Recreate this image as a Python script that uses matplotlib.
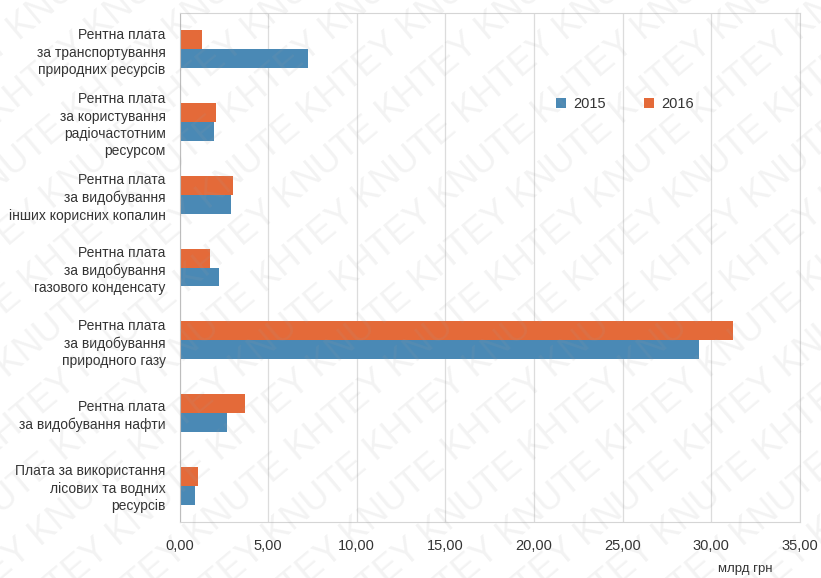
import numpy as np
import matplotlib.pyplot as plt

plt.rcParams['font.family'] = ['Liberation Sans', 'DejaVu Sans']

categories = [
    'Рентна плата\nза транспортування\nприродних ресурсів',
    'Рентна плата\nза користування\nрадіочастотним\nресурсом',
    'Рентна плата\nза видобування\nінших корисних копалин',
    'Рентна плата\nза видобування\nгазового конденсату',
    'Рентна плата\nза видобування\nприродного газу',
    'Рентна плата\nза видобування нафти',
    'Плата за використання\nлісових та водних\nресурсів',
]
values_2015 = [7.25, 1.97, 2.89, 2.23, 29.3, 2.66, 0.86]
values_2016 = [1.29, 2.07, 3.00, 1.72, 31.2, 3.71, 1.03]
xticks = [0, 5, 10, 15, 20, 25, 30, 35]

blue = '#4a89b5'
orange = '#e46a39'

fig = plt.figure(figsize=(8.21, 5.78), dpi=100)
ax = fig.add_axes([179.5 / 821, 1 - 522 / 578, 620.5 / 821, 509 / 578])

y = np.arange(len(categories))
h = 0.26
ax.barh(y + h / 2, values_2015, height=h, color=blue, label='2015', zorder=2)
ax.barh(y - h / 2, values_2016, height=h, color=orange, label='2016', zorder=2)

ax.set_ylim(len(categories) - 0.5, -0.5)
ax.set_yticks(y)
ax.set_yticklabels(categories, fontsize=10, color='#333333', linespacing=1.3)
ax.set_xlim(0, 35)
ax.set_xticks(xticks)
ax.set_xticklabels([f'{v:.2f}'.replace('.', ',') for v in xticks],
                   fontsize=10.5, color='#333333')
ax.tick_params(length=0)
ax.tick_params(axis='x', pad=12)
ax.tick_params(axis='y', pad=10)
ax.grid(axis='x', color='#dcdcdc', lw=0.9, zorder=0)
for s in ax.spines.values():
    s.set_color('#d5d5d5')
ax.spines['left'].set_color('#bdbdbd')

leg = ax.legend(loc='upper left', bbox_to_anchor=(0.585, 0.86), ncol=2,
                frameon=False, fontsize=10.5, handlelength=0.7, handleheight=0.7,
                columnspacing=2.6, handletextpad=0.5)
for t in leg.get_texts():
    t.set_color('#333333')

fig.text(745 / 821, 1 - 569 / 578, 'млрд грн', fontsize=9.5, color='#333333',
         ha='center', va='center')

# diagonal watermark stripes on a transparent overlay, clipped to the figure
wm = fig.add_axes([0, 0, 1, 1], zorder=10)
wm.set_xlim(0, 1)
wm.set_ylim(0, 1)
wm.axis('off')
wm.patch.set_alpha(0)
for k in range(-12, 14):
    wm.text(0.5 + k * 0.095, 0.5, ('KHTEY KNUTE ' * 6).strip(), fontsize=26,
            color='#a0a0a0', alpha=0.12, rotation=40, ha='center', va='center',
            rotation_mode='anchor', clip_on=True)

fig.savefig('out.png', dpi=100)
